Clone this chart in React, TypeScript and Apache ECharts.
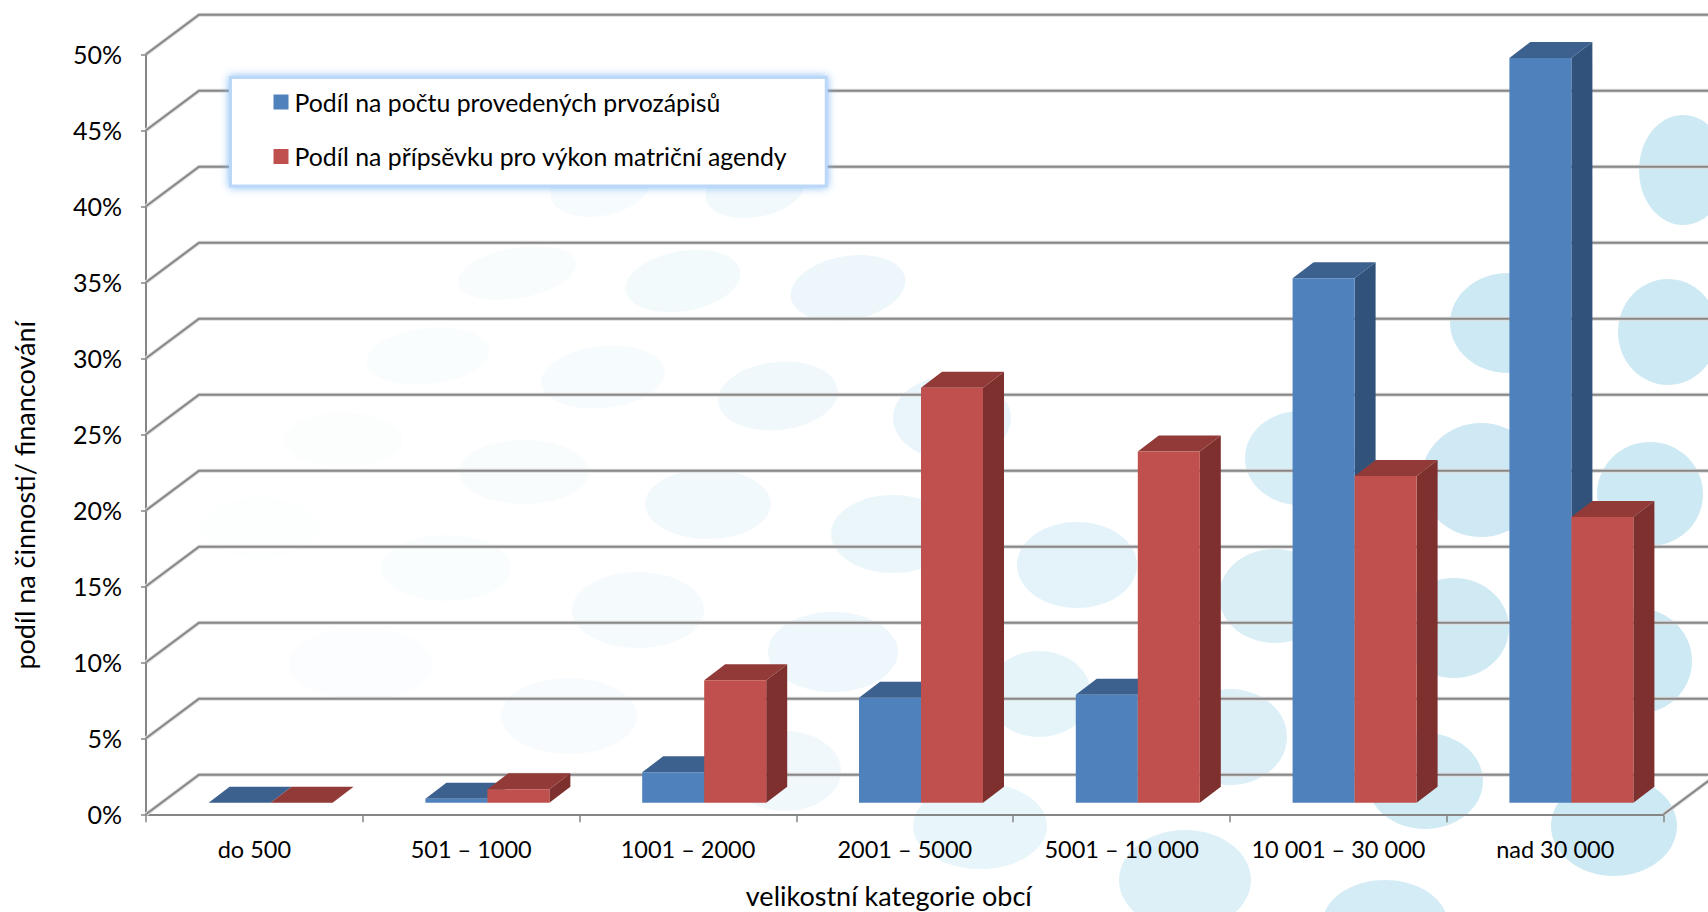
import React, { useEffect, useRef } from "react";
import * as echarts from "echarts";

const categories = ["do 500", "501 – 1000", "1001 – 2000", "2001 – 5000", "5001 – 10 000", "10 001 – 30 000", "nad 30 000"];
const firstSeriesName = "Podíl na počtu provedených prvozápisů";
const secondSeriesName = "Podíl na přípsěvku pro výkon matriční agendy";
const firstSeriesValues = [0, 0.26, 2.0, 6.9, 7.1, 34.5, 49.0];
const secondSeriesValues = [0, 0.88, 8.05, 27.3, 23.1, 21.5, 18.8];
const gridValues = [0, 5, 10, 15, 20, 25, 30, 35, 40, 45, 50];
const xAxisTitle = "velikostní kategorie obcí";
const yAxisTitle = "podíl na činnosti/ financování";

// Decorative wallpaper ellipses: cx, cy, rx, ry, tilt in degrees
const wallpaper: number[][] = [
  [600, 188, 50, 28, 10], [755, 190, 50, 27, 10],
  [517, 273, 60, 25, 10], [683, 281, 58, 30, 10], [848, 288, 58, 32, 10],
  [428, 356, 62, 28, 6], [603, 377, 62, 31, 6], [778, 396, 60, 34, 6], [952, 418, 59, 42, 0],
  [343, 440, 60, 27, 0], [524, 472, 65, 32, 0], [708, 504, 63, 35, 0], [893, 534, 62, 39, 0], [1077, 565, 60, 43, 0],
  [260, 528, 60, 30, 0], [446, 568, 65, 33, 0], [638, 610, 66, 38, 0], [833, 652, 65, 40, 0], [1039, 694, 52, 43, 0],
  [361, 664, 72, 36, 0], [569, 716, 68, 38, 0], [785, 771, 56, 40, 0], [980, 826, 67, 43, 0], [1185, 880, 66, 50, 0],
  [1230, 737, 57, 48, 0], [1425, 781, 58, 48, 0], [1614, 826, 63, 50, 0], [1385, 925, 63, 45, 0],
  [1275, 596, 56, 47, 0], [1454, 628, 55, 50, 0], [1640, 661, 52, 52, 0],
  [1300, 458, 55, 47, 0], [1481, 480, 60, 57, 0], [1650, 494, 53, 52, 0],
  [1508, 323, 58, 50, 0], [1668, 332, 50, 53, 0], [1683, 170, 44, 55, 0],
];

const BLUE = { front: "#4f81bd", top: "#3c618e", side: "#31527b" };
const RED = { front: "#c0504d", top: "#913a38", side: "#7d302e" };
const LINE = "#868686";
const FONT = "Lato";

const WALL_DX = 53;
const WALL_DY = 39.5;
const BAR_DX = 21;
const BAR_DY = 16;
const BAR_SHIFT_X = 16.2;
const BAR_SHIFT_Y = 11.6;
const BAR_SHARE = 0.286;

const wallpaperColor = (cx: number) => {
  const t = Math.max(0, Math.min(1, (cx - 200) / 1300));
  return `rgba(190, 226, 240, ${(0.03 + 0.74 * Math.pow(t, 1.6)).toFixed(3)})`;
};

const renderWall = (params: any, api: any) => {
  const v = api.value(0);
  const sys = params.coordSys;
  const y = api.coord([0, v])[1];
  const left = sys.x;
  const right = sys.x + sys.width;
  const points = [[left, y], [left + WALL_DX, y - WALL_DY], [right + WALL_DX, y - WALL_DY]];
  if (v === 0) points.push([right, y]);
  return {
    type: "group",
    children: [
      { type: "polyline", shape: { points }, style: { stroke: "#dcdcdc", lineWidth: 4, fill: "none" } },
      { type: "polyline", shape: { points }, style: { stroke: LINE, lineWidth: 2, fill: "none" } },
    ],
  };
};

const barRenderer = (colors: typeof BLUE, side: -1 | 1) => (_params: any, api: any) => {
  const [cx, zero] = api.coord([api.value(0), 0]);
  const [, top] = api.coord([api.value(0), api.value(1)]);
  const w = api.size([1, 0])[0] * BAR_SHARE;
  const x0 = cx + BAR_SHIFT_X + (side < 0 ? -w : 0);
  const x1 = x0 + w;
  const yb = zero - BAR_SHIFT_Y;
  const yt = top - BAR_SHIFT_Y;
  const poly = (points: number[][], fill: string) => ({ type: "polygon", shape: { points }, style: { fill } });
  return {
    type: "group",
    children: [
      poly([[x1, yb], [x1 + BAR_DX, yb - BAR_DY], [x1 + BAR_DX, yt - BAR_DY], [x1, yt]], colors.side),
      poly([[x0, yt], [x0 + BAR_DX, yt - BAR_DY], [x1 + BAR_DX, yt - BAR_DY], [x1, yt]], colors.top),
      poly([[x0, yb], [x1, yb], [x1, yt], [x0, yt]], colors.front),
    ],
  };
};

export default function App() {
  const ref = useRef<HTMLDivElement>(null);
  useEffect(() => {
    const chart = echarts.init(ref.current!, undefined, { renderer: "svg" });
    chart.setOption({
      animation: false,
      backgroundColor: "#ffffff",
      textStyle: { fontFamily: FONT },
      grid: { left: 146, right: 44.4, top: 54.3, height: 760, containLabel: false, outerBoundsMode: "none" },
      graphic: {
        elements: wallpaper.map(([cx, cy, rx, ry, tilt]) => ({
          type: "ellipse",
          silent: true,
          z: -10,
          x: cx,
          y: cy,
          rotation: (tilt * Math.PI) / 180,
          shape: { cx: 0, cy: 0, rx, ry },
          style: { fill: wallpaperColor(cx) },
        })),
      },
      legend: {
        show: true,
        orient: "vertical",
        left: 230.5,
        top: 77.5,
        padding: [12, 39, 17, 43],
        icon: "rect",
        itemWidth: 15,
        itemHeight: 15,
        itemGap: 29.5,
        selectedMode: false,
        backgroundColor: "#ffffff",
        borderColor: "#bcd8f8",
        borderWidth: 3,
        shadowColor: "rgba(130,185,245,1)",
        shadowBlur: 9,
        data: [firstSeriesName, secondSeriesName],
        textStyle: { fontFamily: FONT, fontSize: 24.8, color: "#000", padding: [0, 0, 0, 1] },
      },
      xAxis: {
        type: "category",
        data: categories,
        name: xAxisTitle,
        nameLocation: "middle",
        nameGap: 68,
        nameTextStyle: { fontFamily: FONT, fontSize: 27, color: "#000", padding: [0, 32, 0, 0] },
        axisLine: { show: true, lineStyle: { color: LINE, width: 2 } },
        axisTick: { show: true, length: 8, lineStyle: { color: LINE, width: 1.5 } },
        axisLabel: { fontFamily: FONT, fontSize: 23.5, color: "#000", margin: 22.5, interval: 0 },
        splitLine: { show: false },
      },
      yAxis: {
        type: "value",
        min: 0,
        max: 50,
        interval: 5,
        name: yAxisTitle,
        nameLocation: "middle",
        nameRotate: 90,
        nameGap: 108,
        nameTextStyle: { fontFamily: FONT, fontSize: 27, color: "#000", padding: [0, 122, 0, 0] },
        axisLine: { show: true, lineStyle: { color: LINE, width: 2 } },
        axisTick: { show: true, length: 5, lineStyle: { color: LINE, width: 1.5 } },
        axisLabel: { fontFamily: FONT, fontSize: 25, color: "#000", margin: 24, formatter: "{value}%" },
        splitLine: { show: false },
      },
      series: [
        {
          type: "custom",
          name: "mřížka",
          silent: true,
          z: 1,
          data: gridValues.map((v) => [v]),
          encode: { y: 0 },
          renderItem: renderWall,
        },
        {
          type: "custom",
          name: firstSeriesName,
          silent: true,
          z: 2,
          itemStyle: { color: BLUE.front },
          data: firstSeriesValues.map((v, i) => [i, v]),
          encode: { x: 0, y: 1 },
          renderItem: barRenderer(BLUE, -1),
        },
        {
          type: "custom",
          name: secondSeriesName,
          silent: true,
          z: 3,
          itemStyle: { color: RED.front },
          data: secondSeriesValues.map((v, i) => [i, v]),
          encode: { x: 0, y: 1 },
          renderItem: barRenderer(RED, 1),
        },
      ],
    });
    return () => chart.dispose();
  }, []);
  return <div ref={ref} style={{ position: "fixed", left: 0, top: 0, width: 1708, height: 912 }} />;
}
